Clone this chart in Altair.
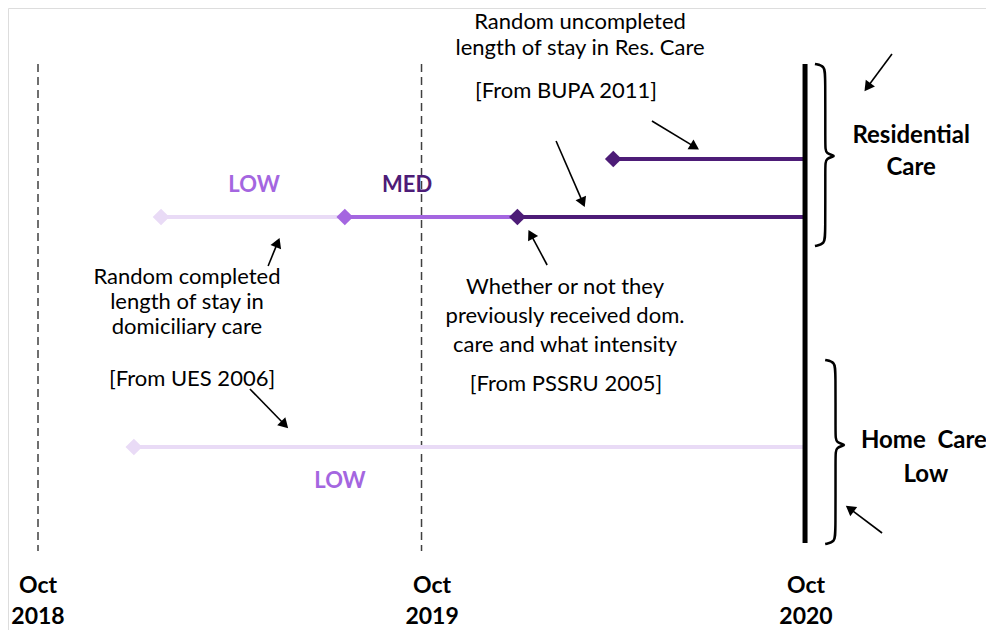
import math
import altair as alt
import pandas as pd

# ---------------- data (x in months since Oct 2018, y in vertical rows, 0 = top) -------------
LIGHT = "#E9DBF6"
MED = "#A466E0"
DARK = "#4D1C77"

# care episode segments
seg_start = [3.0, 3.85, 9.6, 15.0, 18.0]
seg_end = [24.0, 9.6, 15.0, 24.0, 24.0]
seg_row = [439, 209, 209, 209, 151]
seg_color = [LIGHT, LIGHT, MED, DARK, DARK]

# period markers
grid_months = [0, 12]
tick_months = [0, 12.33, 24.03]
tick_month_lbl = ["Oct", "Oct", "Oct"]
tick_year_lbl = ["2018", "2019", "2020"]

# annotation text
note_text = [
    "Random uncompleted", "length of stay in Res. Care", "[From BUPA 2011]",
    "Random completed", "length of stay in", "domiciliary care", "[From UES 2006]",
    "Whether or not they", "previously received dom.", "care and what intensity",
    "[From PSSRU 2005]",
]
note_x = [16.96, 16.96, 16.52, 4.66, 4.66, 4.66, 4.82, 16.49, 16.49, 16.49, 16.52]
note_y = [14, 40, 83, 269, 294, 319, 371, 279, 308, 337, 376]

level_text = ["LOW", "MED", "LOW"]
level_x = [6.76, 11.55, 9.45]
level_y = [177, 177, 473]
level_color = [MED, DARK, MED]

group_text = ["Residential", "Care", "Home\u00a0\u00a0Care", "Low"]
group_x = [27.32, 27.32, 27.72, 27.78]
group_y = [128, 160, 433, 467]

# arrows: tail -> tip
arr_x = [26.72, 19.21, 16.21, 15.93, 7.20, 6.63, 26.41]
arr_y = [46, 113, 133, 257, 258, 381, 525]
arr_x2 = [25.84, 20.71, 17.12, 15.33, 7.57, 7.85, 25.25]
arr_y2 = [84, 142, 200, 221, 229, 421, 497]

# braces: left x, top, bottom, tip row
brace_x = [24.31, 24.63]
brace_top = [56, 352]
brace_bot = [238, 536]
brace_mid = [148, 437]
BRACE_W = 0.72

# ---------------- scales ----------------
W, H = 978, 622
PX_PER_MONTH = 31.96
x0 = -30 / PX_PER_MONTH
xs = alt.Scale(domain=[x0, x0 + W / PX_PER_MONTH], nice=False, zero=False)
ys = alt.Scale(domain=[0, H], reverse=True, nice=False, zero=False)


def X(f="x"):
    return alt.X(f"{f}:Q", scale=xs, axis=None)


def Y(f="y"):
    return alt.Y(f"{f}:Q", scale=ys, axis=None)


FONT = "Lato"

# dashed year lines
grid_df = pd.DataFrame({"x": grid_months, "y": [56] * 2, "y2": [543] * 2})
grid = alt.Chart(grid_df).mark_rule(color="#404040", strokeWidth=1.5, strokeDash=[8, 5]).encode(
    x=X(), y=Y(), y2="y2:Q")

# thick "now" line
now_df = pd.DataFrame({"x": [24.0], "y": [56], "y2": [535]})
now = alt.Chart(now_df).mark_rule(color="black", strokeWidth=5).encode(x=X(), y=Y(), y2="y2:Q")

seg_df = pd.DataFrame({"x": seg_start, "x2": seg_end, "y": seg_row, "c": seg_color,
                       "o": list(range(len(seg_start)))})
segs = alt.Chart(seg_df).mark_rule(strokeWidth=4).encode(
    x=X(), x2="x2:Q", y=Y(), color=alt.Color("c:N", scale=None), order="o:Q")
dia = alt.Chart(seg_df).mark_point(shape="diamond", filled=True, size=280, opacity=1).encode(
    x=X(), y=Y(), color=alt.Color("c:N", scale=None), order="o:Q")

# arrows
adf = pd.DataFrame({"x": arr_x, "y": arr_y, "x2": arr_x2, "y2": arr_y2})
dxp = (adf["x2"] - adf["x"]) * PX_PER_MONTH
dyp = adf["y2"] - adf["y"]
length = (dxp ** 2 + dyp ** 2) ** 0.5
ux, uy = dxp / length, dyp / length
adf["ang"] = [(math.degrees(math.atan2(a, -b)) + 360) % 360 for a, b in zip(ux, uy)]
adf["hx"] = adf["x2"] - ux * 6 / PX_PER_MONTH
adf["hy"] = adf["y2"] - uy * 6
adf["lx2"] = adf["x2"] - ux * 8 / PX_PER_MONTH
adf["ly2"] = adf["y2"] - uy * 8
shafts = alt.Chart(adf).mark_rule(color="black", strokeWidth=1.6).encode(
    x=X(), y=Y(), x2="lx2:Q", y2="ly2:Q")
heads = alt.Chart(adf).mark_point(shape="triangle-up", filled=True, size=130, color="black",
                                  opacity=1).encode(
    x=X("hx"), y=Y("hy"), angle=alt.Angle("ang:Q", scale=None))

# braces
rows = []
for b, (bx, bt, bb, bm) in enumerate(zip(brace_x, brace_top, brace_bot, brace_mid)):
    sp = bx + 0.45 * BRACE_W
    pts = [(bx, bt), (bx + 0.43 * BRACE_W, bt + 2), (sp, bt + 12), (sp, bm - 10), (sp, bm - 2),
           (bx + BRACE_W, bm), (sp, bm + 2), (sp, bm + 10), (sp, bb - 12),
           (bx + 0.43 * BRACE_W, bb - 2), (bx, bb)]
    for i, (px, py) in enumerate(pts):
        rows.append({"b": b, "i": i, "x": px, "y": py})
brace = alt.Chart(pd.DataFrame(rows)).mark_line(color="black", strokeWidth=2.5,
                                                  interpolate="basis").encode(
    x=X(), y=Y(), detail="b:N", order="i:Q")

# texts
notes = alt.Chart(pd.DataFrame({"x": note_x, "y": note_y, "t": note_text})).mark_text(
    font=FONT, fontSize=22, color="#000000", align="center", baseline="middle").encode(
    x=X(), y=Y(), text="t:N")
levels = alt.Chart(pd.DataFrame({"x": level_x, "y": level_y, "t": level_text, "c": level_color})).mark_text(
    font=FONT, fontSize=22, fontWeight="bold", align="center", baseline="middle").encode(
    x=X(), y=Y(), text="t:N", color=alt.Color("c:N", scale=None))
groups = alt.Chart(pd.DataFrame({"x": group_x, "y": group_y, "t": group_text})).mark_text(
    font=FONT, fontSize=24, fontWeight="bold", color="black", align="center", baseline="middle").encode(
    x=X(), y=Y(), text="t:N")
tick_df = pd.DataFrame({"x": tick_months * 2, "y": [578] * 3 + [609] * 3,
                        "t": tick_month_lbl + tick_year_lbl})
ticks = alt.Chart(tick_df).mark_text(
    font=FONT, fontSize=23, fontWeight="bold", color="black", align="center", baseline="middle").encode(
    x=X(), y=Y(), text="t:N")

chart = alt.layer(grid, segs, dia, now, shafts, heads, brace, notes, levels, groups, ticks).properties(
    width=W, height=H, padding=0, autosize=alt.AutoSizeParams(type="none")
).configure_view(stroke="transparent", strokeWidth=0).configure(background="white")

chart.save("out.html", embed_options={"renderer": "svg", "actions": False})
